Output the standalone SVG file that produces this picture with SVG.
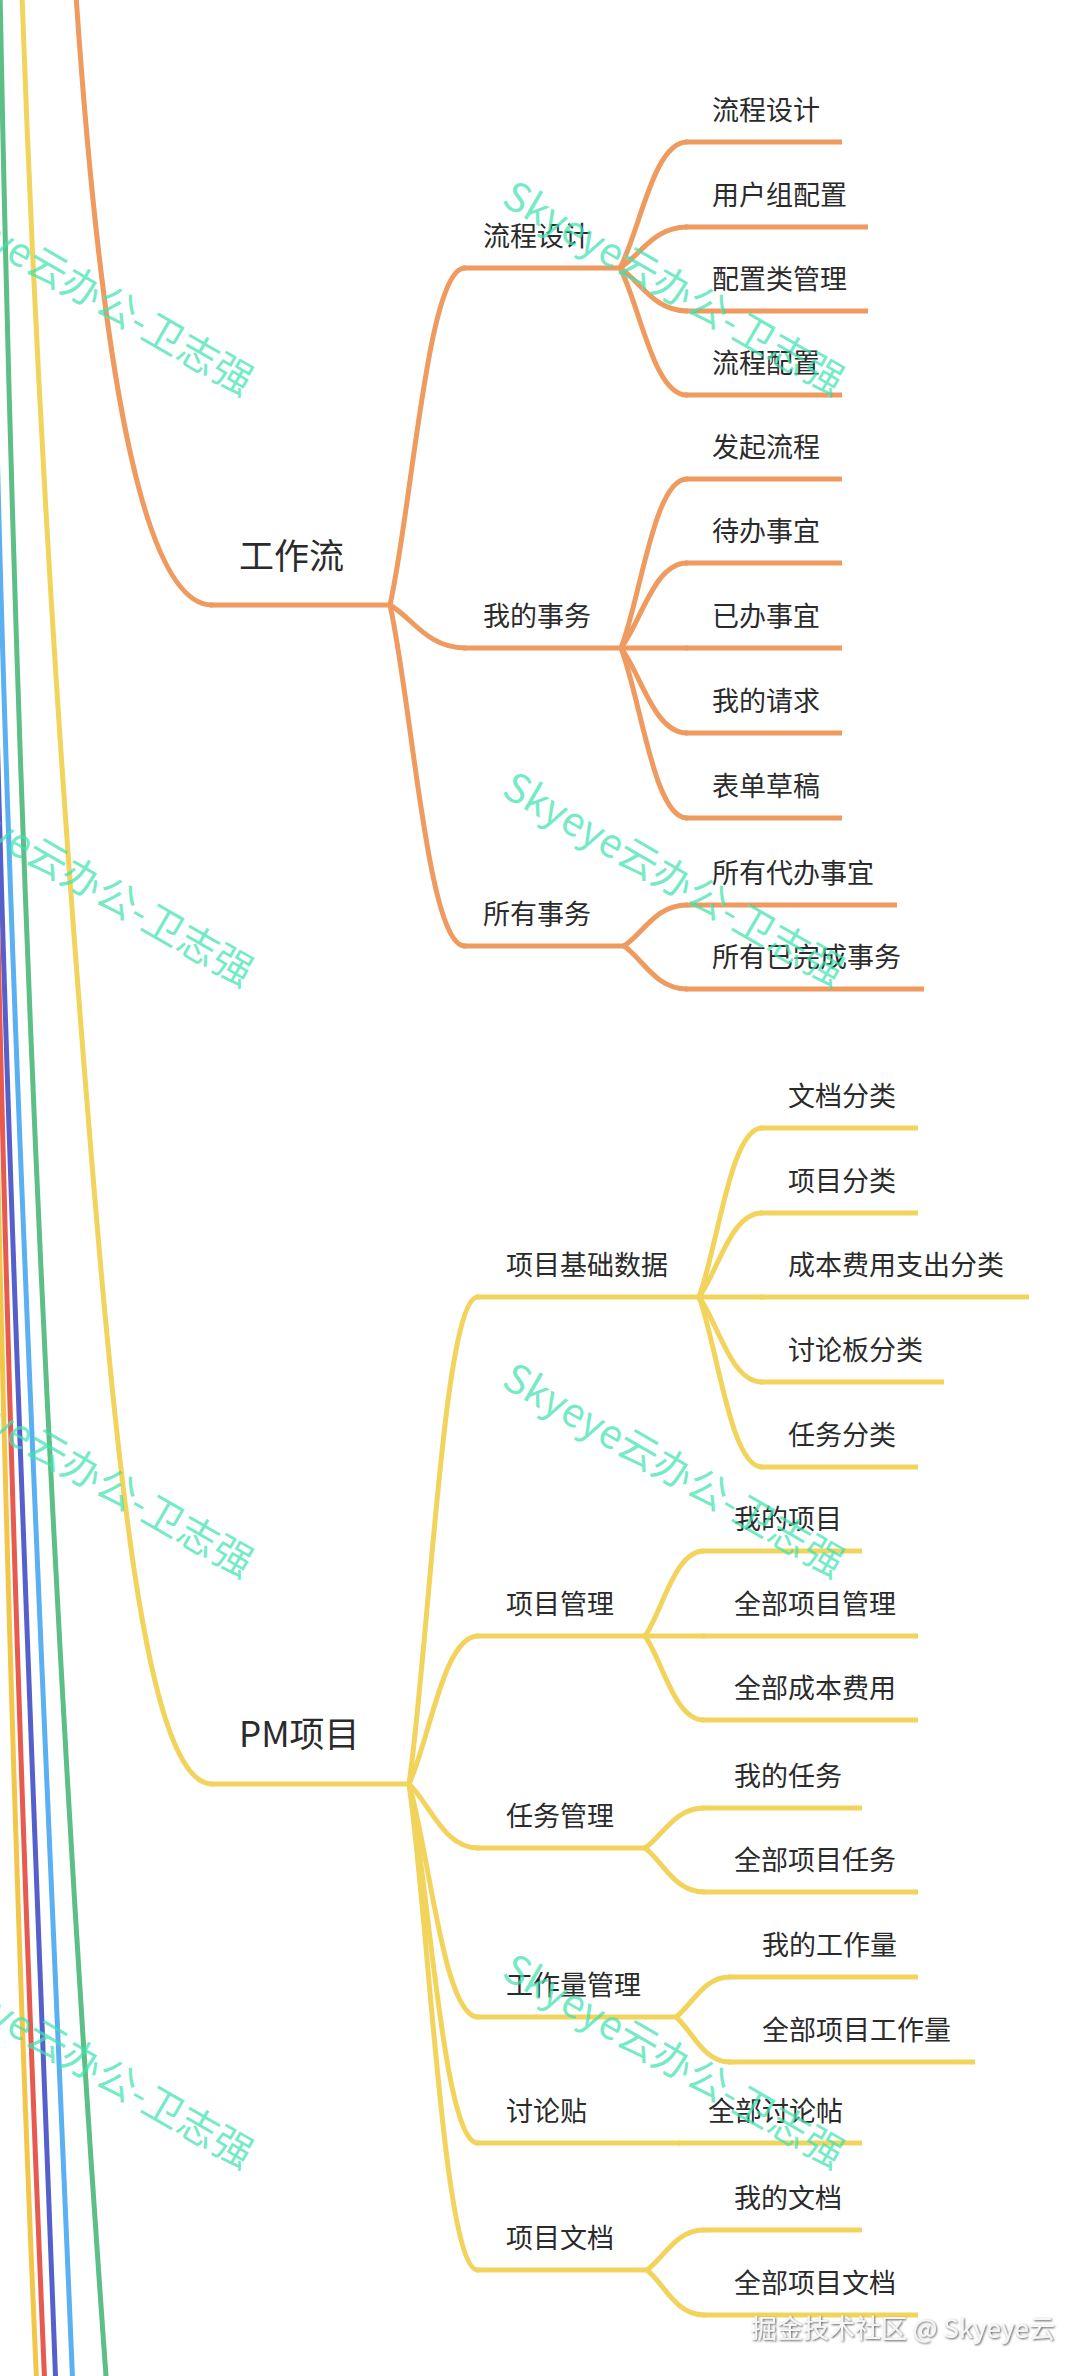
<svg xmlns="http://www.w3.org/2000/svg" width="1080" height="2376" viewBox="0 0 1080 2376">
<style>
.co{fill:none;stroke:#EF9A5E;stroke-width:5;stroke-linecap:round}
.cy{fill:none;stroke:#F2D35B;stroke-width:5;stroke-linecap:round}
.uo{fill:none;stroke:#EF9A5E;stroke-width:5;stroke-linecap:butt}
.uy{fill:none;stroke:#F2D35B;stroke-width:5;stroke-linecap:butt}
.s{fill:none;stroke-width:5;stroke-linecap:round}
text{font-family:"Noto Sans CJK SC","Noto Sans",sans-serif;fill:#2b2b2b}
.l1{font-size:35px}
.l2,.l3{font-size:27px}
.wm{font-size:40px;fill:#3FE3B0;fill-opacity:0.72}
.ft{font-size:26px;fill:#f6f6f6}
</style>
<defs>
<filter id="sh" x="-5%" y="-30%" width="110%" height="160%">
<feDropShadow dx="1" dy="1" stdDeviation="1" flood-color="#444" flood-opacity="0.9"/>
</filter>
</defs>
<rect width="1080" height="2376" fill="#ffffff"/>

<g id="connectors">
<!-- strands from the root to other top-level nodes -->
<path class="s" stroke="#5BBF86" d="M0,-10 C15,800 50,1600 107,2390"/>
<path class="s" stroke="#5AB0F2" d="M-6,300 C5,900 40,1600 73,2390"/>
<path class="s" stroke="#5560CC" d="M-6,600 C5,1100 30,1700 56,2390"/>
<path class="s" stroke="#E8594F" d="M-6,750 C3,1200 20,1800 45,2390"/>
<path class="s" stroke="#F3C64A" d="M-8,900 C0,1300 15,1900 37,2390"/>
<!-- trunks -->
<path class="co" d="M76,-5 C100,350 140,605 212,605"/>
<path class="cy" d="M22,-5 C40,500 70,900 95,1200 S150,1784 212,1784"/>
<!-- 工作流 branches -->
<path class="co" d="M390,605 C412.5,503.9 427.5,268 465,268"/>
<path class="co" d="M390,605 C412.5,617.9 427.5,648 465,648"/>
<path class="co" d="M390,605 C412.5,707.3 427.5,946 465,946"/>
<!-- 流程设计 -->
<path class="co" d="M620,268 C640.1,230.2 653.5,142 687,142"/>
<path class="co" d="M620,268 C640.1,255.7 653.5,227 687,227"/>
<path class="co" d="M620,268 C640.1,280.9 653.5,311 687,311"/>
<path class="co" d="M620,268 C640.1,306.1 653.5,395 687,395"/>
<!-- 我的事务 -->
<path class="co" d="M621,648 C640.8,597.3 654,479 687,479"/>
<path class="co" d="M621,648 C640.8,622.5 654,563 687,563"/>
<path class="co" d="M621,648 H687"/>
<path class="co" d="M621,648 C640.8,673.5 654,733 687,733"/>
<path class="co" d="M621,648 C640.8,699 654,818 687,818"/>
<!-- 所有事务 -->
<path class="co" d="M624,946 C642.9,933.7 655.5,905 687,905"/>
<path class="co" d="M624,946 C642.9,958.9 655.5,989 687,989"/>
<!-- PM项目 branches -->
<path class="cy" d="M409,1784 C429.7,1637.9 443.5,1297 478,1297"/>
<path class="cy" d="M409,1784 C429.7,1739.6 443.5,1636 478,1636"/>
<path class="cy" d="M409,1784 C429.7,1803.2 443.5,1848 478,1848"/>
<path class="cy" d="M409,1784 C429.7,1853.9 443.5,2017 478,2017"/>
<path class="cy" d="M409,1784 C429.7,1891.7 443.5,2143 478,2143"/>
<path class="cy" d="M409,1784 C429.7,1929.8 443.5,2270 478,2270"/>
<!-- 项目基础数据 -->
<path class="cy" d="M699,1297 C717.9,1246.3 730.5,1128 762,1128"/>
<path class="cy" d="M699,1297 C717.9,1271.8 730.5,1213 762,1213"/>
<path class="cy" d="M699,1297 H762"/>
<path class="cy" d="M699,1297 C717.9,1322.5 730.5,1382 762,1382"/>
<path class="cy" d="M699,1297 C717.9,1348 730.5,1467 762,1467"/>
<!-- 项目管理 -->
<path class="cy" d="M645,1636 C662.7,1610.5 674.5,1551 704,1551"/>
<path class="cy" d="M645,1636 H704"/>
<path class="cy" d="M645,1636 C662.7,1661.2 674.5,1720 704,1720"/>
<!-- 任务管理 -->
<path class="cy" d="M645,1848 C662.7,1836 674.5,1808 704,1808"/>
<path class="cy" d="M645,1848 C662.7,1861.2 674.5,1892 704,1892"/>
<!-- 工作量管理 -->
<path class="cy" d="M676,2017 C692.2,2005 703,1977 730,1977"/>
<path class="cy" d="M676,2017 C692.2,2030.5 703,2062 730,2062"/>
<!-- 讨论贴 -->
<path class="cy" d="M620,2143 H680"/>
<!-- 项目文档 -->
<path class="cy" d="M647,2270 C664.1,2258 675.5,2230 704,2230"/>
<path class="cy" d="M647,2270 C664.1,2283.5 675.5,2315 704,2315"/>
</g>

<!-- 工作流 subtree -->
<g id="n-gzl"><path class="uo" d="M210,605 H390"/><text class="l1" x="239" y="569">工作流</text></g>
<g id="n-lcsj"><path class="uo" d="M463,268 H620"/><text class="l2" x="483" y="246">流程设计</text></g>
<g id="n-wdsw"><path class="uo" d="M463,648 H621"/><text class="l2" x="483" y="626">我的事务</text></g>
<g id="n-yysw"><path class="uo" d="M463,946 H624"/><text class="l2" x="483" y="924">所有事务</text></g>
<g id="n-lcsj2"><path class="uo" d="M685,142 H842"/><text class="l3" x="712" y="120">流程设计</text></g>
<g id="n-yhzpz"><path class="uo" d="M685,227 H868"/><text class="l3" x="712" y="205">用户组配置</text></g>
<g id="n-pzlgl"><path class="uo" d="M685,311 H868"/><text class="l3" x="712" y="289">配置类管理</text></g>
<g id="n-lcpz"><path class="uo" d="M685,395 H842"/><text class="l3" x="712" y="373">流程配置</text></g>
<g id="n-fqlc"><path class="uo" d="M685,479 H842"/><text class="l3" x="712" y="457">发起流程</text></g>
<g id="n-dbsy"><path class="uo" d="M685,563 H842"/><text class="l3" x="712" y="541">待办事宜</text></g>
<g id="n-ybsy"><path class="uo" d="M685,648 H842"/><text class="l3" x="712" y="626">已办事宜</text></g>
<g id="n-wdqq"><path class="uo" d="M685,733 H842"/><text class="l3" x="712" y="711">我的请求</text></g>
<g id="n-bdcg"><path class="uo" d="M685,818 H842"/><text class="l3" x="712" y="796">表单草稿</text></g>
<g id="n-yydbsy"><path class="uo" d="M685,905 H897"/><text class="l3" x="712" y="883">所有代办事宜</text></g>
<g id="n-yyywcsw"><path class="uo" d="M685,989 H924"/><text class="l3" x="712" y="967">所有已完成事务</text></g>

<!-- PM项目 subtree -->
<g id="n-pm"><path class="uy" d="M210,1784 H409"/><text class="l1" x="239" y="1747">PM项目</text></g>
<g id="n-xmjcsj"><path class="uy" d="M476,1297 H699"/><text class="l2" x="506" y="1275">项目基础数据</text></g>
<g id="n-xmgl"><path class="uy" d="M476,1636 H645"/><text class="l2" x="506" y="1614">项目管理</text></g>
<g id="n-rwgl"><path class="uy" d="M476,1848 H645"/><text class="l2" x="506" y="1826">任务管理</text></g>
<g id="n-gzlgl"><path class="uy" d="M476,2017 H676"/><text class="l2" x="506" y="1995">工作量管理</text></g>
<g id="n-tlt"><path class="uy" d="M476,2143 H620"/><text class="l2" x="506" y="2121">讨论贴</text></g>
<g id="n-xmwd"><path class="uy" d="M476,2270 H647"/><text class="l2" x="506" y="2248">项目文档</text></g>
<g id="n-wdfl"><path class="uy" d="M760,1128 H918"/><text class="l3" x="788" y="1106">文档分类</text></g>
<g id="n-xmfl"><path class="uy" d="M760,1213 H918"/><text class="l3" x="788" y="1191">项目分类</text></g>
<g id="n-cbfy"><path class="uy" d="M760,1297 H1029"/><text class="l3" x="788" y="1275">成本费用支出分类</text></g>
<g id="n-tlbfl"><path class="uy" d="M760,1382 H944"/><text class="l3" x="788" y="1360">讨论板分类</text></g>
<g id="n-rwfl"><path class="uy" d="M760,1467 H918"/><text class="l3" x="788" y="1445">任务分类</text></g>
<g id="n-wdxm"><path class="uy" d="M702,1551 H862"/><text class="l3" x="734" y="1529">我的项目</text></g>
<g id="n-qbxmgl"><path class="uy" d="M702,1636 H918"/><text class="l3" x="734" y="1614">全部项目管理</text></g>
<g id="n-qbcbfy"><path class="uy" d="M702,1720 H918"/><text class="l3" x="734" y="1698">全部成本费用</text></g>
<g id="n-wdrw"><path class="uy" d="M702,1808 H862"/><text class="l3" x="734" y="1786">我的任务</text></g>
<g id="n-qbxmrw"><path class="uy" d="M702,1892 H918"/><text class="l3" x="734" y="1870">全部项目任务</text></g>
<g id="n-wdgzl"><path class="uy" d="M728,1977 H918"/><text class="l3" x="762" y="1955">我的工作量</text></g>
<g id="n-qbxmgzl"><path class="uy" d="M728,2062 H975"/><text class="l3" x="762" y="2040">全部项目工作量</text></g>
<g id="n-qbtlt"><path class="uy" d="M678,2143 H862"/><text class="l3" x="708" y="2121">全部讨论帖</text></g>
<g id="n-wdwd"><path class="uy" d="M702,2230 H862"/><text class="l3" x="734" y="2208">我的文档</text></g>
<g id="n-qbxmwd"><path class="uy" d="M702,2315 H918"/><text class="l3" x="734" y="2293">全部项目文档</text></g>

<!-- watermarks -->
<g id="watermark">
<text class="wm" transform="translate(500,204) rotate(30)">Skyeye云办公-卫志强</text>
<text class="wm" transform="translate(-91,204) rotate(30)">Skyeye云办公-卫志强</text>
<text class="wm" transform="translate(500,795) rotate(30)">Skyeye云办公-卫志强</text>
<text class="wm" transform="translate(-91,795) rotate(30)">Skyeye云办公-卫志强</text>
<text class="wm" transform="translate(500,1386) rotate(30)">Skyeye云办公-卫志强</text>
<text class="wm" transform="translate(-91,1386) rotate(30)">Skyeye云办公-卫志强</text>
<text class="wm" transform="translate(500,1977) rotate(30)">Skyeye云办公-卫志强</text>
<text class="wm" transform="translate(-91,1977) rotate(30)">Skyeye云办公-卫志强</text>
</g>
<text class="ft" x="751" y="2338" filter="url(#sh)">掘金技术社区 @ Skyeye云</text>
</svg>
